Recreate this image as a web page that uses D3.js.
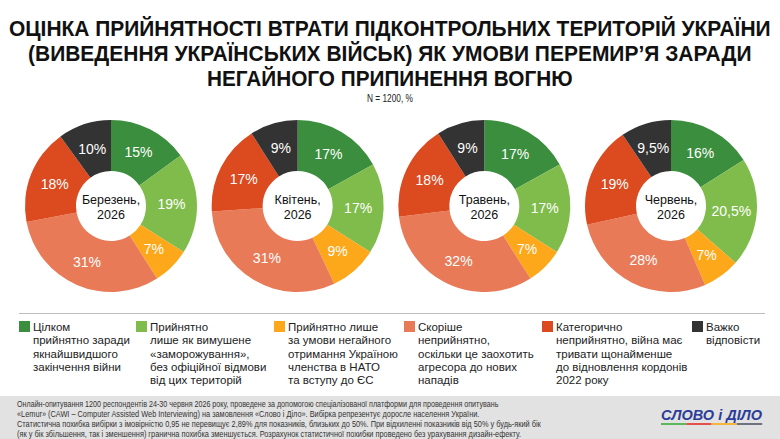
<!DOCTYPE html>
<html lang="uk">
	<head>
		<meta charset="utf-8">
		<title>D3: Donut charts</title>
		<script type="text/javascript" src="https://cdn.jsdelivr.net/npm/d3@7"></script>
		<style type="text/css">
			body { margin: 0; background: #fff; }
			svg { display: block; }
		</style>
	</head>
	<body>
		<script type="text/javascript">

			var w = 780;
			var h = 439;

			// data
			var months = ["Березень,", "Квітень,", "Травень,", "Червень,"];
			var year = "2026";
			var categories = ["full", "freeze", "nato", "rather", "never", "hard"];
			var march = [15, 19, 7, 31, 18, 10];
			var april = [17, 17, 9, 31, 17, 9];
			var may = [17, 17, 7, 32, 18, 9];
			var june = [16, 20.5, 7, 28, 19, 9.5];
			var series = [march, april, may, june];

			var legendLines = [
				["Цілком", "прийнятно заради", "якнайшвидшого", "закінчення війни"],
				["Прийнятно", "лише як вимушене", "«заморожування»,", "без офіційної відмови", "від цих територій"],
				["Прийнятно лише", "за умови негайного", "отримання Україною", "членства в НАТО", "та вступу до ЄС"],
				["Скоріше", "неприйнятно,", "оскільки це заохотить", "агресора до нових", "нападів"],
				["Категорично", "неприйнятно, війна має", "тривати щонайменше", "до відновлення кордонів", "2022 року"],
				["Важко", "відповісти"]
			];

			var titleLines = [
				"ОЦІНКА ПРИЙНЯТНОСТІ ВТРАТИ ПІДКОНТРОЛЬНИХ ТЕРИТОРІЙ УКРАЇНИ",
				"(ВИВЕДЕННЯ УКРАЇНСЬКИХ ВІЙСЬК) ЯК УМОВИ ПЕРЕМИР’Я ЗАРАДИ",
				"НЕГАЙНОГО ПРИПИНЕННЯ ВОГНЮ"
			];
			var subtitle = "N = 1200, %";

			var footLines = [
				"Онлайн-опитування 1200 респондентів 24-30 червня 2026 року, проведене за допомогою спеціалізованої платформи для проведення опитувань",
				"«Lemur» (CAWI – Computer Assisted Web Interviewing) на замовлення «Слово і Діло». Вибірка репрезентує доросле населення України.",
				"Статистична похибка вибірки з імовірністю 0,95 не перевищує 2,89% для показників, близьких до 50%. При відхиленні показників від 50% у будь-який бік",
				"(як у бік збільшення, так і зменшення) гранична похибка зменшується. Розрахунок статистичної похибки проведено без урахування дизайн-ефекту."
			];

			var colors = ["#3a8e3d", "#80bc4b", "#fda71a", "#e97a57", "#dc4a1f", "#333333"];
			var colorScale = d3.scaleOrdinal().domain(categories).range(colors);

			var font = "'Liberation Sans', Arial, sans-serif";

			var svg = d3.select("body")
						.append("svg")
						.attr("width", w)
						.attr("height", h);

			// squeeze a text sideways so it spans the given width (narrow font look)
			function squeeze(sel, x, y, width, anchor) {
				sel.each(function(d, i) {
					var t = d3.select(this);
					var len = this.getComputedTextLength();
					var k = width(d, i) / len;
					var yy = y(d, i);
					var xx = anchor == "middle" ? x - width(d, i) / 2 : x;
					t.attr("x", 0).attr("y", 0)
					 .attr("text-anchor", "start")
					 .attr("transform", "translate(" + xx + "," + yy + ") scale(" + k + ",1)");
				});
			}

			// title
			var titleWidths = [762, 724, 366];
			var title = svg.selectAll(".title")
			   .data(titleLines)
			   .enter()
			   .append("text")
			   .attr("class", "title")
			   .style("font-family", font)
			   .style("font-weight", "bold")
			   .style("font-size", "22px")
			   .attr("fill", "#111")
			   .text(function(d) { return d; });
			squeeze(title, w / 2, function(d, i) { return 36 + i * 25; },
					function(d, i) { return titleWidths[i]; }, "middle");

			var sub = svg.append("text")
			   .style("font-family", font)
			   .style("font-size", "10px")
			   .attr("fill", "#222")
			   .text(subtitle);
			squeeze(sub, w / 2, function() { return 102; }, function() { return 46; }, "middle");

			// donuts
			var xScale = d3.scalePoint()
						   .domain(months)
						   .range([111, 671]);
			var cy = 206;

			var pie = d3.pie()
						.sort(null)
						.value(function(d) { return d.value; });

			var arc = d3.arc().innerRadius(35).outerRadius(86);

			series.forEach(function(vals, m) {
				var rows = vals.map(function(v, i) { return { key: categories[i], value: v }; });
				var g = svg.append("g")
						   .attr("transform", "translate(" + xScale(months[m]) + "," + cy + ")");

				g.selectAll("path")
				 .data(pie(rows))
				 .enter()
				 .append("path")
				 .attr("d", arc)
				 .attr("fill", function(d) { return colorScale(d.data.key); });

				g.selectAll(".lbl")
				 .data(pie(rows))
				 .enter()
				 .append("text")
				 .attr("class", "lbl")
				 .attr("transform", function(d) { return "translate(" + arc.centroid(d) + ")"; })
				 .attr("dy", "0.36em")
				 .attr("text-anchor", "middle")
				 .style("font-family", font)
				 .style("font-size", "14px")
				 .attr("fill", "#fff")
				 .text(function(d) { return String(d.data.value).replace(".", ",") + "%"; });

				g.append("text")
				 .attr("y", -2)
				 .attr("text-anchor", "middle")
				 .style("font-family", font)
				 .style("font-size", "12.5px")
				 .attr("fill", "#111")
				 .text(months[m]);
				g.append("text")
				 .attr("y", 13)
				 .attr("text-anchor", "middle")
				 .style("font-family", font)
				 .style("font-size", "12.5px")
				 .attr("fill", "#111")
				 .text(year);
			});

			// separator
			svg.append("line")
			   .attr("x1", 19).attr("x2", 765)
			   .attr("y1", 313.5).attr("y2", 313.5)
			   .attr("stroke", "#bdbdbd")
			   .attr("stroke-width", 1);

			// legend
			var legendX = [19, 136, 274, 404, 542, 692];
			legendLines.forEach(function(lines, i) {
				var lg = svg.append("g")
							.attr("transform", "translate(" + legendX[i] + ",321)");
				lg.append("rect")
				  .attr("width", 11)
				  .attr("height", 11)
				  .attr("fill", colors[i]);
				lg.selectAll("text")
				  .data(lines)
				  .enter()
				  .append("text")
				  .attr("x", 14)
				  .attr("y", function(d, j) { return 10 + j * 13.3; })
				  .style("font-family", font)
				  .style("font-size", "11.5px")
				  .attr("fill", "#222")
				  .text(function(d) { return d; });
			});

			// footer
			svg.append("rect")
			   .attr("x", 0).attr("y", 396)
			   .attr("width", w).attr("height", h - 396)
			   .attr("fill", "#e2e2e2");

			var footWidths = [482, 463, 525, 505];
			var foot = svg.selectAll(".foot")
			   .data(footLines)
			   .enter()
			   .append("text")
			   .attr("class", "foot")
			   .style("font-family", font)
			   .style("font-size", "8.5px")
			   .attr("fill", "#333")
			   .text(function(d) { return d; });
			squeeze(foot, 17, function(d, i) { return 406.5 + i * 10.3; },
					function(d, i) { return footWidths[i]; }, "start");

			// logo
			var logo = svg.append("text")
			   .style("font-family", font)
			   .style("font-weight", "bold")
			   .style("font-style", "italic")
			   .style("font-size", "14px")
			   .attr("fill", "#2b3d98")
			   .text("СЛОВО і ДІЛО");
			squeeze(logo, 661, function() { return 420; }, function() { return 101; }, "start");

			var logoColors = ["#5cb85c", "#e2514a", "#f5b73b", "#6c7280"];
			svg.selectAll(".logobar")
			   .data(logoColors)
			   .enter()
			   .append("rect")
			   .attr("class", "logobar")
			   .attr("x", function(d, i) { return 661 + i * 25.3; })
			   .attr("y", 423)
			   .attr("width", 25.3)
			   .attr("height", 2)
			   .attr("fill", function(d) { return d; });

		</script>
	</body>
</html>
